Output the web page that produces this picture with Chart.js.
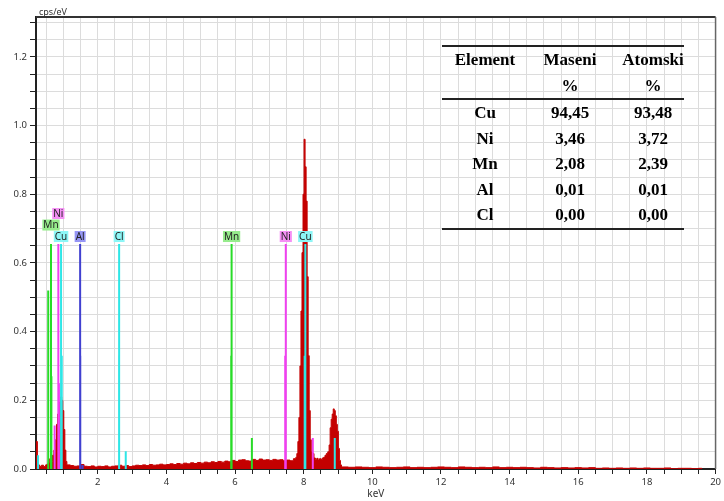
<!DOCTYPE html>
<html>
<head>
<meta charset="utf-8">
<title>EDS spektar</title>
<script src="https://cdn.jsdelivr.net/npm/chart.js@4.4.1/dist/chart.umd.min.js"></script>
<style>
  html, body { margin: 0; padding: 0; background: #fff; }
  #wrap { position: relative; width: 724px; height: 501px; }
  #spectrum { position: absolute; left: 0; top: 0; }
  #tbl {
    position: absolute; left: 442px; top: 45px; width: 242px;
    border-collapse: separate; border-spacing: 0; table-layout: fixed;
    font: bold 17px "Liberation Serif", "Times New Roman", serif; color: #000;
  }
  #tbl th, #tbl td { padding: 0; text-align: center; white-space: nowrap; }
  #tbl thead tr.r1 th { height: 26px; line-height: 26px; border-top: 2px solid #222; }
  #tbl thead tr.r2 th { height: 25px; line-height: 25px; border-bottom: 2px solid #222; }
  #tbl tbody td { height: 25.6px; line-height: 25.6px; }
  #tbl tbody tr:last-child td { border-bottom: 2px solid #222; }
  #tbl .c3 { padding-left: 10px; }
</style>
</head>
<body>
<div id="wrap">
  <canvas id="spectrum" width="724" height="501"></canvas>
  <table id="tbl">
    <colgroup><col style="width:86px"><col style="width:84px"><col style="width:72px"></colgroup>
    <thead>
      <tr class="r1"><th>Element</th><th>Maseni</th><th class="c3">Atomski</th></tr>
      <tr class="r2"><th></th><th>%</th><th class="c3">%</th></tr>
    </thead>
    <tbody id="tbody"></tbody>
  </table>
</div>
<script>
// EDS spectrum, cps/eV against keV (left edge of each channel)
const spectrumKeV = [
  0.20, 0.24, 0.30, 0.36, 0.42, 0.48, 0.52, 0.56, 0.60, 0.64, 0.68, 0.72, 0.76, 0.80, 0.83, 0.86, 0.89, 0.92, 0.95, 0.98, 1.01, 1.04, 1.07,
  1.10, 1.20, 1.30, 1.40, 1.50, 1.60, 1.70, 1.80, 1.90, 2.00, 2.10, 2.20, 2.30, 2.40, 2.50, 2.60, 2.70, 2.80, 2.90,
  3.00, 3.10, 3.20, 3.30, 3.40, 3.50, 3.60, 3.70, 3.80, 3.90, 4.00, 4.10, 4.20, 4.30, 4.40, 4.50, 4.60, 4.70, 4.80, 4.90,
  5.00, 5.10, 5.20, 5.30, 5.40, 5.50, 5.60, 5.70, 5.80, 5.90, 6.00, 6.10, 6.20, 6.30, 6.40, 6.50, 6.60, 6.70, 6.80, 6.90,
  7.00, 7.10, 7.20, 7.30, 7.40, 7.50, 7.60, 7.70,
  7.77, 7.80, 7.83, 7.86, 7.89, 7.92, 7.95, 7.98, 8.01, 8.04, 8.07, 8.10, 8.13, 8.16, 8.19, 8.22, 8.26, 8.30, 8.34, 8.38, 8.42,
  8.46, 8.50, 8.54, 8.58, 8.62, 8.66, 8.70, 8.74, 8.77, 8.80, 8.83, 8.86, 8.89, 8.92, 8.95, 8.98, 9.01, 9.04, 9.07,
  9.1, 9.3, 9.5, 9.7, 9.9, 10.1, 10.3, 10.5, 10.7, 10.9,
  11.1, 11.3, 11.5, 11.7, 11.9, 12.1, 12.3, 12.5, 12.7, 12.9,
  13.1, 13.3, 13.5, 13.7, 13.9, 14.1, 14.3, 14.5, 14.7, 14.9,
  15.1, 15.3, 15.5, 15.7, 15.9, 16.1, 16.3, 16.5, 16.7, 16.9,
  17.1, 17.3, 17.5, 17.7, 17.9, 18.1, 18.3, 18.5, 18.7, 18.9,
  19.1, 19.3, 19.5, 19.6
];
const spectrumCps = [
  0.080, 0.012, 0.008, 0.011, 0.007, 0.012, 0.014, 0.018, 0.030, 0.022, 0.040, 0.055, 0.085, 0.130, 0.160, 0.180, 0.195, 0.210, 0.200, 0.170, 0.115, 0.055, 0.022,
  0.012, 0.010, 0.008, 0.009, 0.013, 0.008, 0.007, 0.009, 0.006, 0.008, 0.007, 0.009, 0.006, 0.008, 0.009, 0.011, 0.008, 0.010, 0.007,
  0.009, 0.011, 0.010, 0.012, 0.010, 0.013, 0.011, 0.012, 0.014, 0.012, 0.013, 0.015, 0.013, 0.016, 0.014, 0.017, 0.015, 0.018, 0.016, 0.019,
  0.017, 0.020, 0.018, 0.021, 0.019, 0.022, 0.020, 0.023, 0.021, 0.025, 0.022, 0.026, 0.027, 0.024, 0.023, 0.028, 0.025, 0.029, 0.026, 0.027,
  0.025, 0.028, 0.026, 0.027, 0.024, 0.026, 0.024, 0.030,
  0.034, 0.045, 0.080, 0.150, 0.300, 0.460, 0.630, 0.800, 0.960, 0.880, 0.780, 0.560, 0.330, 0.170, 0.085, 0.050, 0.045, 0.032, 0.028, 0.031, 0.026,
  0.030, 0.028, 0.032, 0.034, 0.040, 0.045, 0.050, 0.070, 0.120, 0.145, 0.160, 0.175, 0.170, 0.155, 0.130, 0.110, 0.060, 0.025, 0.012,
  0.006, 0.005, 0.006, 0.005, 0.004, 0.006, 0.005, 0.004, 0.005, 0.006,
  0.004, 0.005, 0.004, 0.005, 0.006, 0.005, 0.004, 0.006, 0.005, 0.004,
  0.005, 0.004, 0.006, 0.004, 0.005, 0.004, 0.005, 0.004, 0.003, 0.005,
  0.004, 0.003, 0.004, 0.003, 0.004, 0.003, 0.004, 0.002, 0.003, 0.002,
  0.003, 0.002, 0.003, 0.002, 0.003, 0.002, 0.002, 0.003, 0.001, 0.002,
  0.002, 0.001, 0.002, 0.000
];

// element marker lines (keV, height in cps/eV) and which of them carry a label
const cuKeV = [0.930, 0.950, 8.028, 8.048, 8.905];
const cuHeight = [0.655, 0.33, 0.33, 0.655, 0.09];
const cuLabelKeV = [0.930, 8.048];

const mnKeV = [0.556, 0.637, 0.649, 5.888, 5.899, 6.490];
const mnHeight = [0.52, 0.655, 0.27, 0.33, 0.655, 0.09];
const mnLabelKeV = [0.637, 5.899];

const niKeV = [0.743, 0.851, 0.868, 7.461, 7.478, 8.265];
const niHeight = [0.127, 0.655, 0.25, 0.33, 0.655, 0.09];
const niLabelKeV = [0.851, 7.478];

const alKeV = [1.486, 1.490, 1.557];
const alHeight = [0.655, 0.33, 0.012];
const alLabelKeV = [1.486];

const clKeV = [0.260, 2.621, 2.622, 2.815];
const clHeight = [0.04, 0.33, 0.655, 0.052];
const clLabelKeV = [2.622];

// quantification table
const tableElements = ['Cu', 'Ni', 'Mn', 'Al', 'Cl'];
const massPercent = [94.45, 3.46, 2.08, 0.01, 0.00];
const atomicPercent = [93.48, 3.72, 2.39, 0.01, 0.00];

const fmt = v => v.toFixed(2).replace('.', ',');
const tbody = document.getElementById('tbody');
tableElements.forEach((el, i) => {
    const tr = document.createElement('tr');
    tr.innerHTML = '<td>' + el + '</td><td>' + fmt(massPercent[i]) + '</td><td class="c3">' + fmt(atomicPercent[i]) + '</td>';
    tbody.appendChild(tr);
});

const markerSets = [
    { name: 'Cu', keV: cuKeV, height: cuHeight, labels: cuLabelKeV, line: '#2ee6e6', box: '#8cf6f6' },
    { name: 'Mn', keV: mnKeV, height: mnHeight, labels: mnLabelKeV, line: '#28dc28', box: '#96ec8c' },
    { name: 'Ni', keV: niKeV, height: niHeight, labels: niLabelKeV, line: '#f040f0', box: '#f590f5' },
    { name: 'Al', keV: alKeV, height: alHeight, labels: alLabelKeV, line: '#4040d0', box: '#9696f5' },
    { name: 'Cl', keV: clKeV, height: clHeight, labels: clLabelKeV, line: '#2ee6e6', box: '#8cf6f6' },
];

const markerPoints = (keV, height) => {
    const pts = [];
    keV.forEach((e, i) => { pts.push({ x: e, y: 0 }, { x: e, y: height[i] }, { x: e, y: null }); });
    return pts;
};

const tickFont = { family: '"Noto Sans", "DejaVu Sans", sans-serif', size: 9.5 };

// frame, unit text and the element label boxes
const decorations = {
    id: 'decorations',
    afterDatasetsDraw(chart) {
        const { ctx, chartArea, scales: { x, y } } = chart;
        ctx.save();
        ctx.strokeStyle = '#333';
        ctx.lineWidth = 2;
        ctx.beginPath();
        ctx.moveTo(chartArea.left, chartArea.top);
        ctx.lineTo(chartArea.right, chartArea.top);
        ctx.stroke();
        ctx.strokeStyle = '#666';
        ctx.lineWidth = 1.5;
        ctx.beginPath();
        ctx.moveTo(chartArea.right, chartArea.top);
        ctx.lineTo(chartArea.right, chartArea.bottom);
        ctx.stroke();

        ctx.fillStyle = '#333';
        ctx.font = '9px "Noto Sans", "DejaVu Sans", sans-serif';
        ctx.textAlign = 'left';
        ctx.textBaseline = 'alphabetic';
        ctx.fillText('cps/eV', chartArea.left + 3, chartArea.top - 2);

        // stack labels upward when they would overlap
        const placed = [];
        const boxH = 11, step = 11.5;
        ctx.font = '10px "Noto Sans", "DejaVu Sans", sans-serif';
        ctx.textAlign = 'center';
        ctx.textBaseline = 'middle';
        markerSets.forEach(set => {
            set.labels.forEach(e => {
                const h = set.height[set.keV.indexOf(e)];
                const cx = x.getPixelForValue(e);
                const w = ctx.measureText(set.name).width + 2;
                const bottom = y.getPixelForValue(h) - 2;
                let r = { l: cx - w / 2, r: cx + w / 2, t: bottom - boxH, b: bottom };
                while (placed.some(p => p.l < r.r && r.l < p.r && p.t < r.b && r.t < p.b)) {
                    r = { l: r.l, r: r.r, t: r.t - step, b: r.b - step };
                }
                placed.push(r);
                ctx.fillStyle = set.box;
                ctx.fillRect(r.l, r.t, w, boxH);
                ctx.fillStyle = '#222';
                ctx.fillText(set.name, cx, (r.t + r.b) / 2 + 0.5);
            });
        });
        ctx.restore();
    }
};

const xTicks = [];
for (let i = 1; i <= 40; i++) xTicks.push(i * 0.5);
const yTicks = [];
for (let i = 0; i <= 26; i++) yTicks.push(i * 0.05);

const ctx = document.getElementById('spectrum').getContext('2d');
new Chart(ctx, {
    type: 'line',
    data: {
        datasets: [
            ...markerSets.map(set => ({
                label: set.name,
                data: markerPoints(set.keV, set.height),
                borderColor: set.line,
                borderWidth: 2,
                pointRadius: 0,
                fill: false,
                spanGaps: false,
                order: 0,
            })),
            {
                label: 'Spektar',
                data: spectrumKeV.map((e, i) => ({ x: e, y: spectrumCps[i] })),
                stepped: true,
                fill: 'origin',
                borderColor: '#c40000',
                backgroundColor: '#c40000',
                borderWidth: 1,
                pointRadius: 0,
                order: 1,
            },
        ],
    },
    options: {
        responsive: false,
        animation: false,
        layout: { padding: { top: 17, right: 8, left: 0, bottom: 0 } },
        plugins: { legend: { display: false }, tooltip: { enabled: false } },
        scales: {
            x: {
                type: 'linear',
                min: 0.2,
                max: 20,
                afterFit: scale => { scale.height = 32; },
                afterBuildTicks: scale => { scale.ticks = xTicks.map(v => ({ value: v })); },
                ticks: {
                    autoSkip: false,
                    maxRotation: 0,
                    padding: 3,
                    color: '#333',
                    font: tickFont,
                    callback: v => (v % 2 === 0 ? String(v) : ''),
                },
                grid: { color: '#dcdcdc', tickColor: '#222', tickLength: 5 },
                border: { color: '#222', width: 2 },
                title: { display: true, text: 'keV', color: '#333', font: { family: tickFont.family, size: 10 }, padding: { top: 0, bottom: 1 } },
            },
            y: {
                min: 0,
                max: 1.316,
                afterFit: scale => { scale.width = 36; },
                afterBuildTicks: scale => { scale.ticks = yTicks.map(v => ({ value: v })); },
                ticks: {
                    autoSkip: false,
                    padding: 3,
                    color: '#333',
                    font: tickFont,
                    callback: v => (Math.abs(v / 0.2 - Math.round(v / 0.2)) < 1e-6 ? v.toFixed(1) : ''),
                },
                grid: { color: '#dcdcdc', tickColor: '#222', tickLength: 6 },
                border: { color: '#222', width: 2 },
            },
        },
    },
    plugins: [decorations],
});
</script>
</body>
</html>
